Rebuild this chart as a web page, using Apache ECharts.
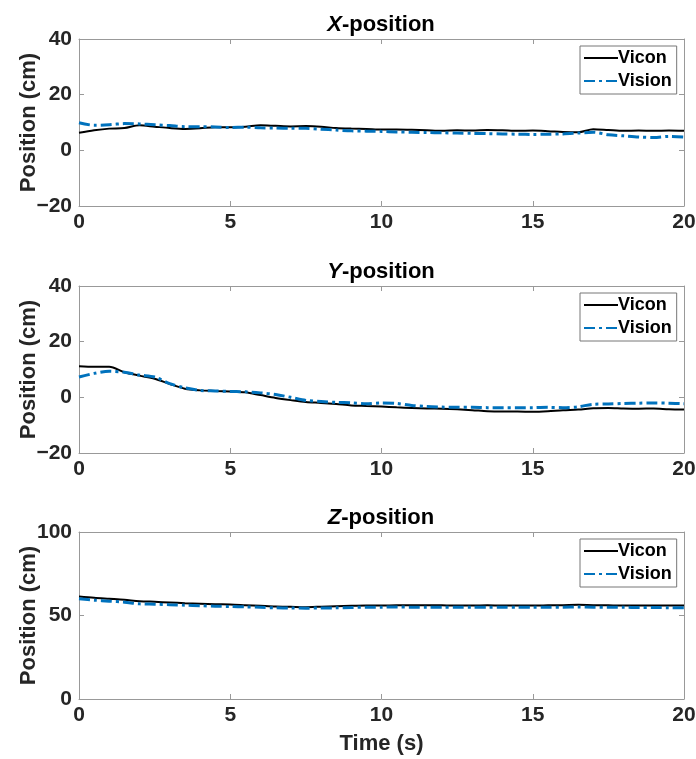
<!DOCTYPE html>
<html>
<head>
<meta charset="utf-8">
<script src="https://cdn.jsdelivr.net/npm/echarts@6/dist/echarts.min.js"></script>
<style>
  html, body { margin: 0; padding: 0; background: #fff; }
  #main { width: 696px; height: 759px; }
</style>
</head>
<body>
<div id="main"></div>
<script>
// time samples (s)
const time = [0,0.5,1,1.5,2,2.5,3,3.5,4,4.5,5,5.5,6,6.5,7,7.5,8,8.5,9,9.5,10,
  10.5,11,11.5,12,12.5,13,13.5,14,14.5,15,15.5,16,16.5,17,17.5,18,18.5,19,19.5,20];

// X-position (cm)
const xVicon = [6.3,7.2,7.8,8.0,9.0,8.5,8.0,7.7,7.9,8.3,8.3,8.5,9.0,8.8,8.6,8.7,8.5,8.0,7.8,7.7,7.5,
  7.5,7.4,7.2,7.0,7.2,7.1,7.3,7.2,7.0,7.1,6.9,6.6,6.5,7.6,7.3,7.0,7.1,7.0,7.1,7.0];
const xVision = [9.9,9.0,9.2,9.6,9.5,9.2,8.9,8.5,8.5,8.4,8.2,8.3,8.1,8.0,7.9,7.9,7.6,7.3,7.0,6.9,6.8,
  6.6,6.5,6.4,6.3,6.2,6.1,6.0,5.9,5.8,5.7,5.8,5.9,6.2,6.5,5.6,5.2,4.8,4.6,5.0,4.8];

// Y-position (cm)
const yVicon = [11.2,11.0,11.0,9.0,7.8,6.7,4.8,3.1,2.5,2.3,2.1,1.8,0.8,-0.2,-1.0,-1.7,-2.0,-2.4,-2.9,-3.1,-3.3,
  -3.6,-3.8,-4.0,-4.1,-4.3,-4.6,-5.0,-5.1,-5.1,-5.2,-5.0,-4.6,-4.4,-3.9,-3.8,-4.0,-4.1,-4.0,-4.3,-4.4];
const yVision = [7.3,8.6,9.4,9.0,8.0,7.3,4.9,3.4,2.5,2.3,2.1,2.0,1.6,1.0,0.0,-1.1,-1.5,-1.8,-2.0,-2.3,-2.0,
  -2.2,-2.9,-3.3,-3.5,-3.6,-3.6,-3.7,-3.7,-3.7,-3.7,-3.6,-3.7,-3.4,-2.5,-2.4,-2.2,-2.1,-2.0,-2.1,-2.3];

// Z-position (cm)
const zVicon = [61.4,60.6,60.0,59.4,58.6,58.2,57.8,57.4,57.1,56.8,56.6,56.2,55.8,55.4,55.2,55.0,55.3,55.6,55.8,56.0,56.0,
  56.1,56.1,56.2,56.1,56.0,56.0,56.1,56.0,56.0,56.0,56.1,56.2,56.4,56.2,56.1,56.0,56.0,56.0,56.0,56.0];
const zVision = [60.0,59.2,58.6,58.0,57.0,56.8,56.5,56.2,55.9,55.6,55.4,55.2,54.9,54.6,54.5,54.4,54.5,54.6,54.8,55.0,55.0,
  55.1,55.0,55.0,54.9,54.9,54.9,55.0,55.0,55.0,54.9,54.9,55.0,55.1,55.0,54.9,54.9,54.8,54.8,54.7,54.7];

const titles = ['X', 'Y', 'Z'];
const yRanges = [[-20, 40, 20], [-20, 40, 20], [0, 100, 50]];
const seriesData = [[xVicon, xVision], [yVicon, yVision], [zVicon, zVision]];

const gridTops = [39, 286, 532];
const gridH = 167;
const boxColor = '#999';
const font = 'Liberation Sans, Arial, sans-serif';

const pair = (vals) => time.map((t, i) => [t, vals[i]]);
const minus = (v) => String(v).replace('-', '\u2212');

const chart = echarts.init(document.getElementById('main'));

const grid = [], xAxis = [], yAxis = [], series = [], title = [], legend = [];

gridTops.forEach((top, k) => {
  grid.push({ left: 79, right: 12, top: top, height: gridH, show: false, containLabel: false, outerBoundsMode: 'none' });

  const tickStyle = { show: true, inside: true, length: 5, lineStyle: { color: boxColor } };
  const lineStyle = { show: true, onZero: false, lineStyle: { color: boxColor, width: 1 } };
  const labelStyle = { color: '#262626', fontSize: 21, fontWeight: 'bold', fontFamily: font };
  const nameStyle = { color: '#262626', fontSize: 22, fontWeight: 'bold', fontFamily: font };

  xAxis.push({
    type: 'value', gridIndex: k, min: 0, max: 20, interval: 5, position: 'bottom',
    axisLine: lineStyle, axisTick: tickStyle, splitLine: { show: false },
    axisLabel: Object.assign({ margin: 6 }, labelStyle),
    name: k === 2 ? 'Time (s)' : '', nameLocation: 'middle', nameGap: 34,
    nameTextStyle: nameStyle
  });
  xAxis.push({
    type: 'value', gridIndex: k, min: 0, max: 20, interval: 5, position: 'top',
    axisLine: lineStyle, axisTick: tickStyle, splitLine: { show: false }, axisLabel: { show: false }
  });

  const [ymin, ymax, yint] = yRanges[k];
  yAxis.push({
    type: 'value', gridIndex: k, min: ymin, max: ymax, interval: yint, position: 'left',
    axisLine: lineStyle, axisTick: tickStyle, splitLine: { show: false },
    axisLabel: Object.assign({ margin: 7, formatter: minus }, labelStyle),
    name: 'Position (cm)', nameLocation: 'middle', nameGap: 39, nameRotate: 90,
    nameMoveOverlap: false,
    nameTextStyle: nameStyle
  });
  yAxis.push({
    type: 'value', gridIndex: k, min: ymin, max: ymax, interval: yint, position: 'right',
    axisLine: lineStyle, axisTick: tickStyle, splitLine: { show: false }, axisLabel: { show: false }
  });

  const [vicon, vision] = seriesData[k];
  series.push({
    name: 'Vicon', type: 'line', xAxisIndex: 2 * k, yAxisIndex: 2 * k,
    data: pair(vicon), showSymbol: false, symbol: 'none', smooth: 0.3,
    lineStyle: { color: '#000', width: 2 }, itemStyle: { color: '#000' }
  });
  series.push({
    name: 'Vision', type: 'line', xAxisIndex: 2 * k, yAxisIndex: 2 * k,
    data: pair(vision), showSymbol: false, symbol: 'none', smooth: 0.3,
    lineStyle: { color: '#0072BD', width: 3, type: [11, 4, 3, 4] }, itemStyle: { color: '#0072BD' }
  });

  title.push({
    text: '{i|' + titles[k] + '}{b|-position}',
    left: 376, top: top - 30, textAlign: 'center',
    textStyle: {
      rich: {
        i: { fontSize: 22, fontWeight: 'bold', fontStyle: 'italic', fontFamily: font, color: '#000' },
        b: { fontSize: 22, fontWeight: 'bold', fontFamily: font, color: '#000' }
      }
    }
  });

  legend.push({
    data: ['Vicon', 'Vision'], orient: 'vertical', left: 580, top: top + 7,
    backgroundColor: '#fff', borderColor: '#777', borderWidth: 1,
    padding: [3, 5, 4, 3], itemGap: 5, itemWidth: 34, itemHeight: 20,
    selectedMode: false,
    itemStyle: { opacity: 0 },
    textStyle: { fontSize: 18, fontWeight: 'bold', fontFamily: font, color: '#000', padding: [0, 0, 0, -5] }
  });
});

chart.setOption({
  animation: false,
  title, legend, grid, xAxis, yAxis, series
});
</script>
</body>
</html>
